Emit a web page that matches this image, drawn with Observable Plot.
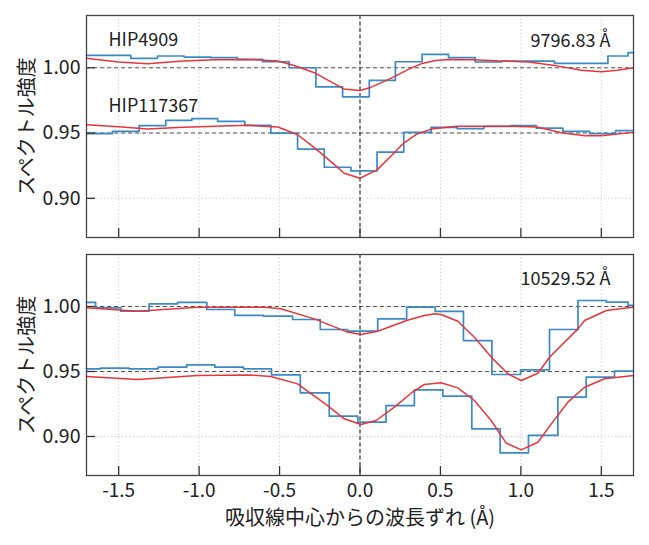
<!DOCTYPE html>
<html><head><meta charset="utf-8">
<script src="https://cdn.jsdelivr.net/npm/d3@7"></script>
<script src="https://cdn.jsdelivr.net/npm/@observablehq/plot@0.6"></script>
<style>body{margin:0;background:#fff} #c{width:649px} svg{display:block}</style>
</head><body><div id="c"></div>
<script>
// ---- tick / reference values ----
const xTicks = [-1.5, -1.0, -0.5, 0.0, 0.5, 1.0, 1.5];
const yTicks = [0.90, 0.95, 1.00];
const refLevels = [1.00, 0.95];
const xDomain = [-1.7, 1.7];
const yDomain = [0.87, 1.04];

// ---- panel 1 (9796.83 Å) ----
const p1Line = "9796.83 Å";
const p1Star1 = "HIP4909";
const p1Star2 = "HIP117367";
const p1aEdges = [-1.7, -1.425, -1.259, -1.093, -0.927, -0.761, -0.605, -0.44, -0.274, -0.108, 0.058, 0.22, 0.386, 0.55, 0.716, 0.88, 1.043, 1.209, 1.375, 1.541, 1.666, 1.7];
const p1aObs   = [1.0095, 1.0072, 1.009, 1.0082, 1.0077, 1.0064, 1.0046, 1.000, 0.9854, 0.9777, 0.9903, 1.0046, 1.0103, 1.0077, 1.0044, 1.0051, 1.0051, 1.0033, 1.0033, 1.009, 1.0115, 1.0115];
const p1bEdges = [-1.7, -1.539, -1.373, -1.207, -1.045, -0.885, -0.716, -0.554, -0.388, -0.222, -0.056, 0.106, 0.272, 0.442, 0.604, 0.770, 0.936, 1.095, 1.261, 1.427, 1.589, 1.7];
const p1bObs   = [0.9495, 0.9513, 0.9556, 0.9597, 0.961, 0.959, 0.9559, 0.95, 0.9377, 0.9238, 0.921, 0.9354, 0.9505, 0.9544, 0.9533, 0.9551, 0.9556, 0.9538, 0.9513, 0.9495, 0.9518, 0.9518];
const p1aModX = [-1.7, -1.5, -1.32, -1.1, -0.9, -0.7, -0.51, -0.4, -0.284, -0.2, -0.1, 0.0, 0.06, 0.14, 0.22, 0.3, 0.386, 0.47, 0.55, 0.7, 0.877, 1.05, 1.209, 1.375, 1.5, 1.6, 1.7];
const p1aModY = [1.0072, 1.0044, 1.003, 1.0051, 1.0062, 1.0064, 1.0051, 1.0013, 0.9962, 0.9905, 0.9838, 0.9826, 0.9846, 0.989, 0.9936, 0.9987, 1.0033, 1.0056, 1.0064, 1.0062, 1.0051, 1.0044, 1.0018, 0.998, 0.997, 0.998, 1.0];
const p1bModX = [-1.7, -1.5, -1.32, -1.1, -0.9, -0.7, -0.51, -0.388, -0.3, -0.243, -0.17, -0.098, 0.0, 0.106, 0.19, 0.272, 0.35, 0.442, 0.6, 0.77, 0.94, 1.1, 1.26, 1.4, 1.5, 1.7];
const p1bModY = [0.9564, 0.9548, 0.9531, 0.9545, 0.9551, 0.9559, 0.9546, 0.9487, 0.9403, 0.9346, 0.927, 0.9192, 0.9154, 0.9218, 0.932, 0.9423, 0.949, 0.953, 0.9551, 0.9551, 0.9551, 0.9546, 0.95, 0.948, 0.948, 0.9505];

// ---- panel 2 (10529.52 Å) ----
const p2Line = "10529.52 Å";
const p2aEdges = [-1.7, -1.643, -1.487, -1.311, -1.134, -0.952, -0.778, -0.599, -0.419, -0.247, -0.077, 0.110, 0.29, 0.467, 0.643, 0.82, 0.998, 1.178, 1.355, 1.531, 1.666, 1.7];
const p2aObs   = [1.0031, 0.999, 0.9964, 1.002, 1.0031, 0.9977, 0.9931, 0.9926, 0.99, 0.9823, 0.981, 0.9905, 0.9995, 0.9962, 0.9738, 0.9477, 0.9513, 0.9823, 1.0046, 1.0033, 1.0008, 1.0008];
const p2bEdges = [-1.7, -1.612, -1.436, -1.255, -1.077, -0.902, -0.724, -0.550, -0.371, -0.191, -0.014, 0.162, 0.338, 0.515, 0.695, 0.871, 1.047, 1.23, 1.406, 1.582, 1.7];
const p2bObs   = [0.952, 0.9526, 0.952, 0.9533, 0.9551, 0.9533, 0.952, 0.9474, 0.9336, 0.9156, 0.911, 0.9238, 0.9359, 0.931, 0.9059, 0.8874, 0.9008, 0.9303, 0.9456, 0.9503, 0.9503];
const p2aModX = [-1.7, -1.383, -1.01, -0.595, -0.492, -0.284, -0.077, 0.006, 0.11, 0.29, 0.40, 0.467, 0.504, 0.608, 0.711, 0.82, 0.919, 1.002, 1.106, 1.178, 1.355, 1.396, 1.531, 1.666, 1.7];
const p2aModY = [0.999, 0.9964, 0.9995, 0.9995, 0.9982, 0.9905, 0.9803, 0.9785, 0.981, 0.9892, 0.9931, 0.9944, 0.9938, 0.9887, 0.9764, 0.9605, 0.9482, 0.9431, 0.9487, 0.961, 0.9828, 0.9892, 0.9969, 0.999, 0.9995];
const p2bModX = [-1.7, -1.383, -1.01, -0.699, -0.554, -0.388, -0.201, -0.098, 0.006, 0.1, 0.214, 0.317, 0.40, 0.504, 0.608, 0.711, 0.815, 0.909, 1.002, 1.106, 1.189, 1.292, 1.396, 1.52, 1.7];
const p2bModY = [0.9462, 0.9438, 0.9469, 0.9474, 0.9462, 0.9405, 0.9238, 0.9136, 0.9092, 0.9123, 0.9226, 0.9333, 0.94, 0.9413, 0.9374, 0.9277, 0.9123, 0.8949, 0.8897, 0.8956, 0.9097, 0.9264, 0.9379, 0.9444, 0.9469];

const yLabel = "スペクトル強度";
const xLabel = "吸収線中心からの波長ずれ (Å)";

const BLUE = "#3a8ac6", RED = "#e5363c";
const FONT = "'Noto Sans CJK JP', 'Noto Sans', sans-serif";

const zipXY = (xs, ys) => xs.map((x, i) => ({x, y: ys[i]}));

function panel({height, marginTop, marginBottom, steps, models, texts, showX}) {
  const frameH = height - marginTop - marginBottom;
  const frameW = 649 - 86 - 16;
  const marks = [
    Plot.gridX(xTicks, {stroke: "#c8c8c8", strokeOpacity: 1, strokeDasharray: "1.2,2.4"}),
    Plot.gridY(yTicks, {stroke: "#c8c8c8", strokeOpacity: 1, strokeDasharray: "1.2,2.4"}),
    Plot.ruleY(refLevels, {stroke: "#555", strokeWidth: 1.1, strokeDasharray: "4,3"}),
    Plot.ruleX([0], {stroke: "#222", strokeWidth: 1.1, strokeDasharray: "4,2.5"}),
    ...steps.map(s => Plot.line(s, {x: "x", y: "y", curve: "step-after", stroke: BLUE, strokeWidth: 1.7})),
    ...models.map(m => Plot.line(m, {x: "x", y: "y", curve: "linear", stroke: RED, strokeWidth: 1.5})),
    Plot.tickX(xTicks, {x: d => d, insetTop: frameH - 9, stroke: "#333", strokeWidth: 1.3}),
    Plot.tickY(yTicks, {y: d => d, insetRight: frameW - 9, stroke: "#333", strokeWidth: 1.3}),
    Plot.axisY(yTicks, {tickSize: 0, tickPadding: 6, tickFormat: d => d.toFixed(2), fontSize: 19.5, label: null}),
    Plot.text([yLabel], {frameAnchor: "left", textAnchor: "middle", lineAnchor: "middle", dx: -59, rotate: -90, fontSize: 20, fill: "#222"}),
    ...texts.map(t => Plot.text([t.text], {frameAnchor: t.anchor, textAnchor: t.textAnchor, lineAnchor: "middle", dx: t.dx, dy: t.dy, fontSize: 18, fill: "#222"})),
    Plot.frame({stroke: "#444", strokeWidth: 1.3})
  ];
  if (showX) {
    marks.push(Plot.axisX(xTicks, {tickSize: 0, tickPadding: 8, tickFormat: d => d.toFixed(1), fontSize: 19, label: null}));
    marks.push(Plot.text([xLabel], {frameAnchor: "bottom", textAnchor: "middle", lineAnchor: "middle", dy: 43, fontSize: 20, fill: "#222"}));
  }
  return Plot.plot({
    width: 649, height, marginTop, marginBottom, marginLeft: 86, marginRight: 16,
    x: {domain: xDomain, axis: showX ? undefined : null},
    y: {domain: yDomain},
    style: {fontFamily: FONT, fontSize: "18px", color: "#222", background: "#fff"},
    marks
  });
}

const c = document.getElementById("c");
c.appendChild(panel({
  height: 245, marginTop: 15, marginBottom: 8, showX: false,
  steps: [zipXY(p1aEdges, p1aObs), zipXY(p1bEdges, p1bObs)],
  models: [zipXY(p1aModX, p1aModY), zipXY(p1bModX, p1bModY)],
  texts: [
    {text: p1Star1, anchor: "top-left", textAnchor: "start", dx: 22, dy: 25},
    {text: p1Star2, anchor: "top-left", textAnchor: "start", dx: 22, dy: 90.5},
    {text: p1Line, anchor: "top-right", textAnchor: "end", dx: -23, dy: 26}
  ]
}));
c.appendChild(panel({
  height: 300, marginTop: 9, marginBottom: 70, showX: true,
  steps: [zipXY(p2aEdges, p2aObs), zipXY(p2bEdges, p2bObs)],
  models: [zipXY(p2aModX, p2aModY), zipXY(p2bModX, p2bModY)],
  texts: [
    {text: p2Line, anchor: "top-right", textAnchor: "end", dx: -23, dy: 25}
  ]
}));
</script>
</body></html>
